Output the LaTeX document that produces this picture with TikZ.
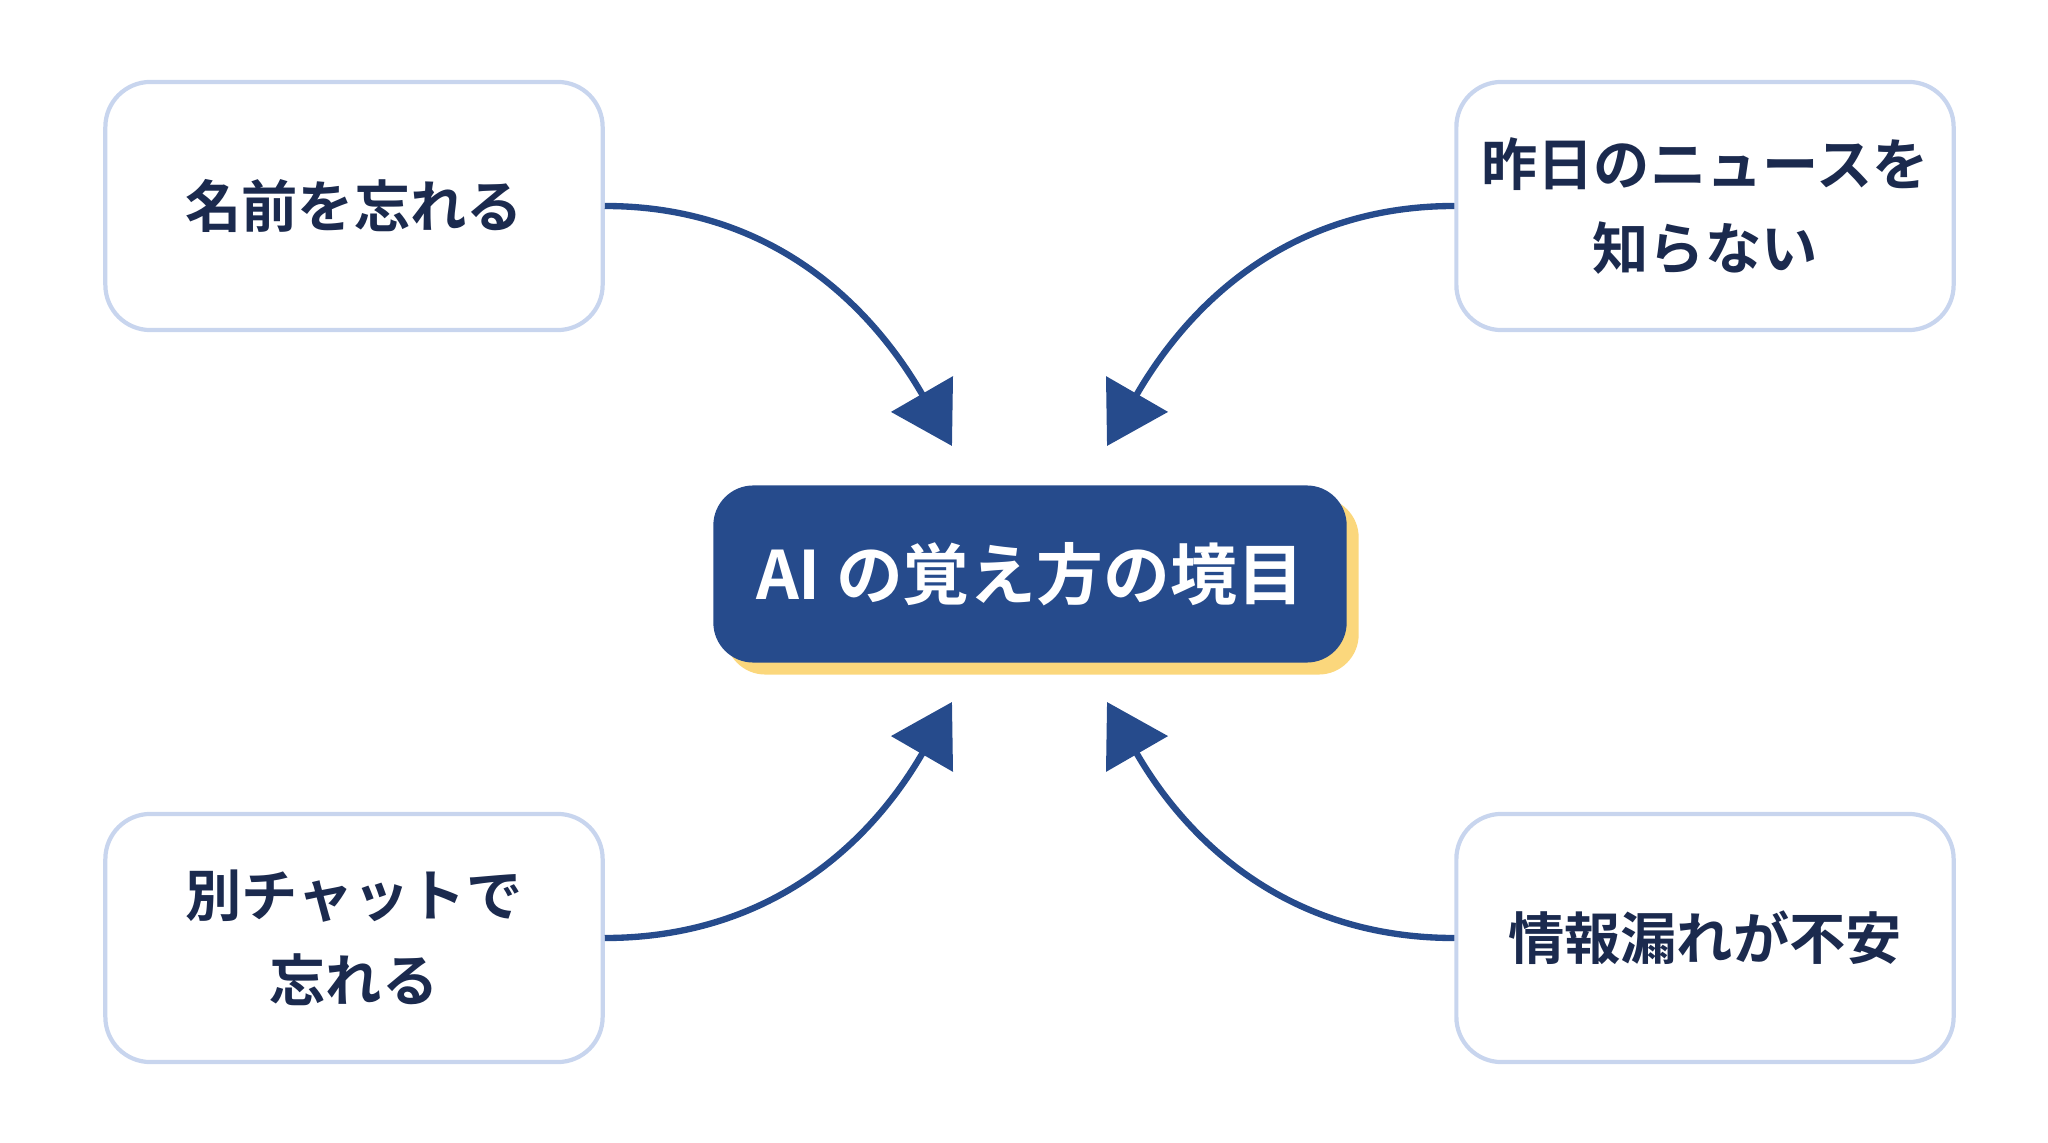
\documentclass[tikz,border=0pt]{standalone}
\usepackage{fontspec}
\newfontfamily\jpfont{Noto Sans CJK JP Bold}
\usetikzlibrary{arrows.meta,positioning}
\definecolor{navy}{HTML}{1B2A4E}
\definecolor{edgeblue}{HTML}{C8D5EE}
\definecolor{mainblue}{HTML}{264B8C}
\definecolor{shadowyellow}{HTML}{FBD77C}
\begin{document}
\begin{tikzpicture}[
  x=0.01cm, y=-0.01cm,
  every node/.style={font=\jpfont},
  topic/.style={draw=edgeblue, line width=1.2pt, fill=white, rounded corners=4.5mm,
    minimum width=4.97cm, minimum height=2.48cm, text=navy, align=center,
    font=\jpfont\fontsize{16}{24}\selectfont},
  core/.style={fill=mainblue, rounded corners=4mm, minimum width=6.33cm,
    minimum height=1.77cm, text=white, font=\jpfont\fontsize{19}{22}\selectfont},
  link/.style={draw=mainblue, line width=1.8pt,
    -{Triangle[length=6mm, width=7mm]}}
]
\useasboundingbox (0,0) rectangle (2048,1143);
% topics
\node[topic] (forgetname) at (354,206) {名前を忘れる};
\node[topic] (news) at (1705,206) {昨日のニュースを\\知らない};
\node[topic] (otherchat) at (354,938) {別チャットで\\忘れる};
\node[topic] (leak) at (1705,938) {情報漏れが不安};
% center
\node[fill=shadowyellow, rounded corners=4mm, minimum width=6.33cm,
  minimum height=1.77cm] at (1042,586) {};
\node[core] (center) at (1030,574) {AI の覚え方の境目};
% tips
\coordinate (tipA) at (952,446);
\coordinate (tipB) at (1107,446);
\coordinate (tipC) at (952,702);
\coordinate (tipD) at (1107,702);
% links
\draw[link] (forgetname.east) to[out=0, in=120] (tipA);
\draw[link] (news.west) to[out=180, in=60] (tipB);
\draw[link] (otherchat.east) to[out=0, in=-120] (tipC);
\draw[link] (leak.west) to[out=180, in=-60] (tipD);
\end{tikzpicture}
\end{document}
